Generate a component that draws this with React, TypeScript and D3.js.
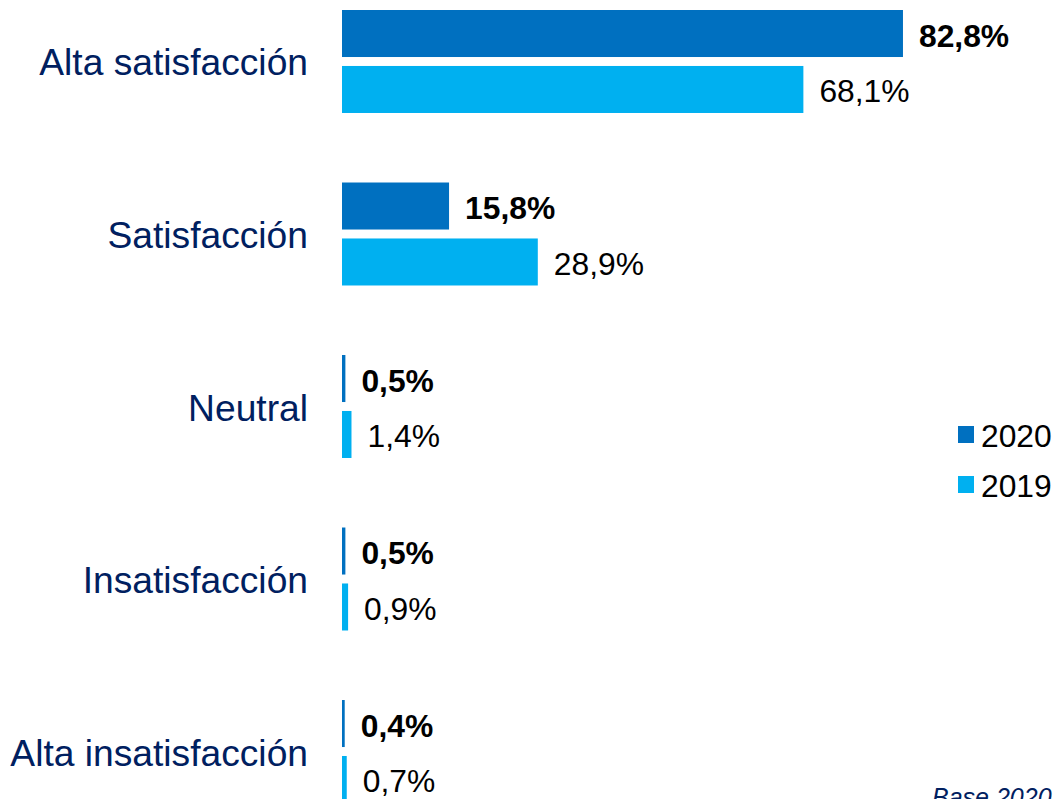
import React from "react";
import * as d3 from "d3";

const categories = [
  "Alta satisfacción",
  "Satisfacción",
  "Neutral",
  "Insatisfacción",
  "Alta insatisfacción",
];
const series = ["2020", "2019"];
const values2020 = [82.8, 15.8, 0.5, 0.5, 0.4];
const values2019 = [68.1, 28.9, 1.4, 0.9, 0.7];
const colors = ["#0070C0", "#00B0F0"];

const width = 1054;
const height = 799;
const font = "'Liberation Sans', Arial, sans-serif";

const fmt = (v: number) => v.toFixed(1).replace(".", ",") + "%";

export default function App() {
  // x: percent to pixels, bars start at 342
  const x = d3.scaleLinear().domain([0, 100]).range([342, 1019.5]);

  // one band per category, two bars inside
  const y = d3
    .scaleBand()
    .domain(categories)
    .range([10, 803])
    .paddingInner(0.403)
    .paddingOuter(0);

  const inner = d3
    .scaleBand()
    .domain(series)
    .range([0, y.bandwidth()])
    .paddingInner(0.16);

  const data = [values2020, values2019];

  return (
    <svg
      width={width}
      height={height}
      style={{ position: "absolute", left: 0, top: 0, background: "#fff" }}
      fontFamily={font}
    >
      {categories.map((c, i) => (
        <g key={c}>
          <text
            x={308}
            y={(y(c) as number) + y.bandwidth() / 2 + 1}
            textAnchor="end"
            dominantBaseline="central"
            fontSize={37.2}
            fill="#002060"
          >
            {c}
          </text>
          {series.map((s, j) => {
            const v = data[j][i];
            const by = (y(c) as number) + (inner(s) as number);
            return (
              <g key={s}>
                <rect
                  x={x(0)}
                  y={by}
                  width={x(v) - x(0)}
                  height={inner.bandwidth()}
                  fill={colors[j]}
                />
                <text
                  x={x(v) + 16}
                  y={by + inner.bandwidth() / 2 + 2}
                  dominantBaseline="central"
                  fontSize={31.8}
                  fontWeight={j === 0 ? "bold" : "normal"}
                  fill="#000"
                >
                  {fmt(v)}
                </text>
              </g>
            );
          })}
        </g>
      ))}

      {/* legend */}
      {series.map((s, j) => (
        <g key={s} transform={`translate(958, ${426 + j * 50})`}>
          <rect width={16} height={17} fill={colors[j]} />
          <text x={23} y={10} dominantBaseline="central" fontSize={31.8} fill="#000">
            {s}
          </text>
        </g>
      ))}

      <text
        x={932}
        y={806}
        fontSize={25}
        fontStyle="italic"
        fill="#002060"
      >
        Base 2020
      </text>
    </svg>
  );
}
